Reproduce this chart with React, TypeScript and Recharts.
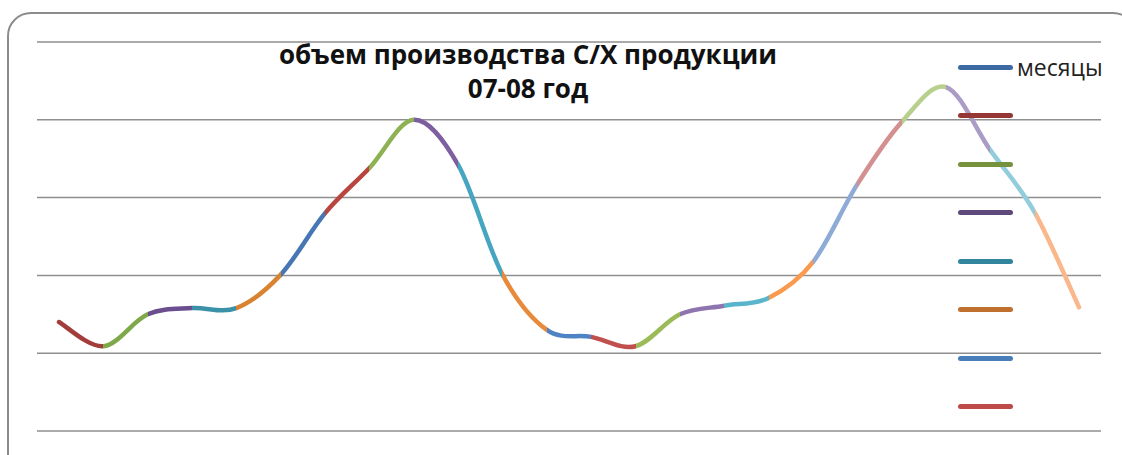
import { LineChart, Line, XAxis, YAxis, CartesianGrid } from 'recharts';

// 24 months, 2007-2008
const MONTHS = [
    'янв 07', 'фев 07', 'мар 07', 'апр 07', 'май 07', 'июн 07', 'июл 07', 'авг 07', 'сен 07', 'окт 07', 'ноя 07', 'дек 07',
    'янв 08', 'фев 08', 'мар 08', 'апр 08', 'май 08', 'июн 08', 'июл 08', 'авг 08', 'сен 08', 'окт 08', 'ноя 08', 'дек 08',
];
const VOLUME = [
    14.0, 10.9, 15.0, 15.8, 15.8, 20.1, 28.0, 33.8, 40.0, 34.2, 20.1, 13.0,
    12.1, 10.9, 15.0, 16.1, 17.1, 21.7, 31.7, 39.7, 44.2, 36.1, 28.1, 15.9,
];
const Y_TICKS = [0, 10, 20, 30, 40, 50];

// colour of each segment between two months (Excel "vary colours by point")
const SEGMENT_COLORS = [
    '#a23d3b', '#7ea84a', '#6a4e8e', '#3a91a8', '#d7832f', '#4677b4',
    '#b94540', '#8db153', '#7d5fa0', '#46a5c0', '#e88a3c', '#4f84c4',
    '#c0504d', '#9bbb59', '#8f75b0', '#5ab4cb', '#f99a4e', '#8eaad6',
    '#d49090', '#b7d08e', '#ab9cc6', '#92cddc', '#fab78c',
];

const LEGEND_LABELS = ['месяцы', '', '', '', '', '', '', ''];
const LEGEND_COLORS = ['#3d6aa2', '#953735', '#76923c', '#5f497a', '#31859c', '#bf6f2e', '#4a7ebb', '#be4b48'];

const chartData = MONTHS.map((m, i) => ({ month: m, v: VOLUME[i] }));

// Excel-like smoothed line (Catmull-Rom)
function smoothCurve(context: any) {
    let pts: number[][] = [];
    return {
        areaStart() {},
        areaEnd() {},
        lineStart() { pts = []; },
        point(x: number, y: number) { pts.push([+x, +y]); },
        lineEnd() {
            const n = pts.length;
            if (!n) return;
            context.moveTo(pts[0][0], pts[0][1]);
            for (let i = 0; i < n - 1; i++) {
                const p0 = pts[Math.max(i - 1, 0)];
                const p1 = pts[i];
                const p2 = pts[i + 1];
                const p3 = pts[Math.min(i + 2, n - 1)];
                context.bezierCurveTo(
                    p1[0] + (p2[0] - p0[0]) / 6, p1[1] + (p2[1] - p0[1]) / 6,
                    p2[0] - (p3[0] - p1[0]) / 6, p2[1] - (p3[1] - p1[1]) / 6,
                    p2[0], p2[1],
                );
            }
        },
    };
}

function MonthLegend() {
    return (
        <div style={{ position: 'absolute', left: 958, top: 43, fontFamily: '"Open Sans", sans-serif' }}>
            {LEGEND_COLORS.map((c, i) => (
                <div key={i} style={{ display: 'flex', alignItems: 'center', height: 48.5 }}>
                    <div style={{ width: 55, height: 5, borderRadius: 3, background: c }} />
                    <span style={{ marginLeft: 4, fontSize: 23, color: '#222', lineHeight: 1 }}>{LEGEND_LABELS[i]}</span>
                </div>
            ))}
        </div>
    );
}

export default function App() {
    const n = SEGMENT_COLORS.length;
    return (
        <div style={{ position: 'absolute', left: 0, top: 0, width: 1122, height: 455, overflow: 'hidden', background: '#fff' }}>
            {/* rounded chart frame */}
            <div style={{
                position: 'absolute', left: 7, top: 12, width: 1130, height: 470,
                border: '2.5px solid #8c8c8c', borderRadius: 24, boxSizing: 'border-box',
            }} />

            <div style={{ position: 'absolute', left: 0, top: 0 }}>
                <LineChart width={1122} height={455} data={chartData} margin={{ top: 42, right: 21, bottom: 24, left: 37 }}>
                    <defs>
                        <linearGradient id="segments" x1="0" y1="0" x2="1" y2="0">
                            {SEGMENT_COLORS.flatMap((c, i) => [
                                <stop key={`a${i}`} offset={i / n} stopColor={c} />,
                                <stop key={`b${i}`} offset={(i + 1) / n} stopColor={c} />,
                            ])}
                        </linearGradient>
                    </defs>
                    <CartesianGrid vertical={false} stroke="#8f8f8f" strokeWidth={1.5} />
                    <XAxis dataKey="month" hide padding={{ left: 22, right: 22 }} />
                    <YAxis hide domain={[0, 50]} ticks={Y_TICKS} />
                    <Line
                        dataKey="v"
                        type={smoothCurve as any}
                        stroke="url(#segments)"
                        strokeWidth={4.5}
                        strokeLinecap="round"
                        dot={false}
                        activeDot={false}
                        isAnimationActive={false}
                    />
                </LineChart>
            </div>

            <MonthLegend />

            <div style={{
                position: 'absolute', left: 228, width: 600, top: 37, textAlign: 'center',
                fontFamily: '"Open Sans", sans-serif', fontWeight: 700, fontSize: 26, lineHeight: '34px', color: '#111',
            }}>
                объем производства С/Х продукции
                <br />
                07-08 год
            </div>
        </div>
    );
}
